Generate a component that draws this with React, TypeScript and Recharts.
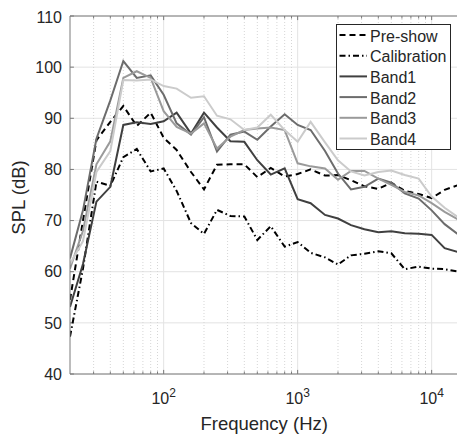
import React from 'react';
import { LineChart, Line, XAxis, YAxis, CartesianGrid, ReferenceLine, Legend } from 'recharts';

const FONT = '"Liberation Sans", Arial, Helvetica, sans-serif';
const TEXT = '#262626';
const AXIS = '#7a7a7a';

const freqs = [20, 25, 31.5, 40, 50, 63, 80, 100, 125, 160, 200, 250, 315, 400, 500, 630, 800, 1000, 1250, 1600, 2000, 2500, 3150, 4000, 5000, 6300, 8000, 10000, 12500, 16000];
const preShow = [54.5, 70, 85.7, 89.3, 92.4, 88.5, 91.1, 86.2, 83.8, 79.5, 76.1, 80.9, 81, 81, 78.5, 80.3, 78.6, 79.1, 80, 78.8, 78.9, 77.9, 76.7, 76.2, 77.4, 75.8, 75.2, 74.4, 76, 77];
const calibration = [47.3, 60.6, 77.6, 76.8, 82.4, 84, 79.6, 80.2, 75.8, 69.5, 67.4, 72.1, 70.9, 70.8, 66.2, 68.9, 64.9, 65.8, 63.7, 62.8, 61.4, 63.2, 63.5, 64, 63.6, 60.5, 61, 60.6, 60.5, 60];
const band1 = [53.1, 61.5, 73.7, 76.6, 88.7, 89.2, 88.9, 89.4, 91.1, 87, 91.1, 88.2, 85.5, 85.4, 81.8, 79, 80.2, 74.2, 73.4, 71.1, 70.4, 69.1, 68.3, 67.7, 67.9, 67.5, 67.4, 67.2, 64.6, 63.8];
const band2 = [62.6, 72, 86, 93.5, 101.2, 97.9, 98.4, 94.6, 89, 86.8, 90.2, 83.5, 86.8, 87.4, 85.8, 88.4, 90.8, 88.7, 87.7, 83.6, 79.2, 76.1, 76.6, 78.2, 77.4, 75.3, 74.3, 72, 69.3, 67.2];
const band3 = [60.6, 68, 81, 85.5, 97.9, 99.2, 97.9, 91.4, 88.3, 87, 89, 84.1, 86.4, 87.7, 88, 88.2, 87.7, 81.2, 80.6, 80.2, 78, 79.7, 79.7, 78.2, 77, 75.6, 74.9, 73.4, 71.7, 70.1];
const band4 = [61.5, 66, 79.5, 83.6, 97.5, 97.4, 97.6, 96.3, 95.8, 94, 94.3, 90.5, 89.8, 87.7, 88.2, 90.7, 87.7, 85.4, 89.3, 85.3, 81.8, 79.6, 78.8, 79.5, 79.8, 78.9, 78.2, 74.7, 72.5, 70.5];

const yTicks = [40, 50, 60, 70, 80, 90, 100, 110];
const xTicks = [100, 1000, 10000];
const minorFreqs = [30, 40, 50, 60, 70, 80, 90, 200, 300, 400, 500, 600, 700, 800, 900, 2000, 3000, 4000, 5000, 6000, 7000, 8000, 9000];

const series = [
  { key: 'pre', name: 'Pre-show', color: '#000000', dash: '6 4', values: preShow },
  { key: 'cal', name: 'Calibration', color: '#000000', dash: '6 3 1.5 3', values: calibration },
  { key: 'b1', name: 'Band1', color: '#404040', dash: undefined, values: band1 },
  { key: 'b2', name: 'Band2', color: '#6c6c6c', dash: undefined, values: band2 },
  { key: 'b3', name: 'Band3', color: '#9a9a9a', dash: undefined, values: band3 },
  { key: 'b4', name: 'Band4', color: '#cbcbcb', dash: undefined, values: band4 },
];

const data = freqs.map((f, i) => {
  const row: any = { f };
  series.forEach((s) => { row[s.key] = s.values[i]; });
  return row;
});

const XTick = (props: any) => {
  const { x, y, payload } = props;
  const exp = Math.round(Math.log10(payload.value));
  return (
    <text x={x} y={y + 30} textAnchor="middle" fontSize={16} fill={TEXT} fontFamily={FONT}>
      10<tspan dy={-7} fontSize={12}>{exp}</tspan>
    </text>
  );
};

const LegendBox = () => (
  <svg width={116} height={127} style={{ display: 'block' }}>
    <rect x={0.5} y={0.5} width={114} height={125} fill="#ffffff" stroke="#262626" strokeWidth={1} />
    {series.map((s, i) => {
      const cy = 11 + i * 20.7;
      return (
        <g key={s.key}>
          <line x1={3.5} x2={31} y1={cy} y2={cy} stroke={s.color} strokeWidth={2} strokeDasharray={s.dash} />
          <text x={34} y={cy + 6.5} fontSize={16} fill={TEXT} fontFamily={FONT}>{s.name}</text>
        </g>
      );
    })}
  </svg>
);

// inward tick lengths expressed in axis units
const MINOR_TICK_DB = 0.5;
const MAJOR_TICK_DB = 0.8;
const Y_TICK_FACTOR = 1.07;

export default function App() {
  return (
    <div style={{ position: 'fixed', left: 8, top: 8, width: 449, height: 427, overflow: 'hidden', background: '#fff' }}>
      <LineChart width={452} height={427} data={data} margin={{ top: 8, right: 1, bottom: 0, left: 0 }}>
        <CartesianGrid stroke="#e3e3e3" strokeWidth={1} horizontalValues={yTicks} verticalValues={xTicks} />
        {minorFreqs.map((m) => (
          <ReferenceLine key={'g' + m} x={m} stroke="#d6d6d6" strokeWidth={1} strokeDasharray="1 2" ifOverflow="hidden" />
        ))}
        {minorFreqs.map((m) => (
          <ReferenceLine key={'tb' + m} segment={[{ x: m, y: 40 }, { x: m, y: 40 + MINOR_TICK_DB }]} stroke={AXIS} strokeWidth={1} />
        ))}
        {minorFreqs.map((m) => (
          <ReferenceLine key={'tt' + m} segment={[{ x: m, y: 110 }, { x: m, y: 110 - MINOR_TICK_DB }]} stroke={AXIS} strokeWidth={1} />
        ))}
        {xTicks.map((m) => (
          <ReferenceLine key={'Mb' + m} segment={[{ x: m, y: 40 }, { x: m, y: 40 + MAJOR_TICK_DB }]} stroke={AXIS} strokeWidth={1} />
        ))}
        {xTicks.map((m) => (
          <ReferenceLine key={'Mt' + m} segment={[{ x: m, y: 110 }, { x: m, y: 110 - MAJOR_TICK_DB }]} stroke={AXIS} strokeWidth={1} />
        ))}
        {yTicks.map((v) => (
          <ReferenceLine key={'yl' + v} segment={[{ x: 20, y: v }, { x: 20 * Y_TICK_FACTOR, y: v }]} stroke={AXIS} strokeWidth={1} />
        ))}
        <ReferenceLine y={110} stroke={AXIS} strokeWidth={1} />
        <XAxis
          dataKey="f"
          type="number"
          scale="log"
          domain={[20, 16000]}
          ticks={xTicks}
          allowDataOverflow
          height={61}
          tickLine={false}
          tickSize={0}
          tickMargin={0}
          axisLine={{ stroke: AXIS }}
          tick={<XTick />}
          label={{
            content: () => (
              <text x={256.2} y={422} textAnchor="middle" fontSize={18.5} fill={TEXT} fontFamily={FONT}>Frequency (Hz)</text>
            ),
          }}
        />
        <YAxis
          type="number"
          domain={[40, 110]}
          ticks={yTicks}
          allowDataOverflow
          width={62}
          tickLine={false}
          tickSize={0}
          tickMargin={8}
          axisLine={{ stroke: AXIS }}
          tick={{ fontSize: 16, fill: TEXT, fontFamily: FONT }}
          label={{
            content: () => (
              <text x={17} y={189.5} transform="rotate(-90 17 189.5)" textAnchor="middle" fontSize={18.5} fill={TEXT} fontFamily={FONT}>SPL (dB)</text>
            ),
          }}
        />
        <Legend
          layout="vertical"
          align="center"
          verticalAlign="middle"
          content={<LegendBox />}
          wrapperStyle={{ left: 327.7, top: 16, width: 116, height: 127, margin: 0 }}
        />
        {series.map((s) => (
          <Line
            key={s.key}
            dataKey={s.key}
            name={s.name}
            type="linear"
            stroke={s.color}
            strokeWidth={2}
            strokeDasharray={s.dash}
            dot={false}
            activeDot={false}
            isAnimationActive={false}
          />
        ))}
      </LineChart>
    </div>
  );
}
